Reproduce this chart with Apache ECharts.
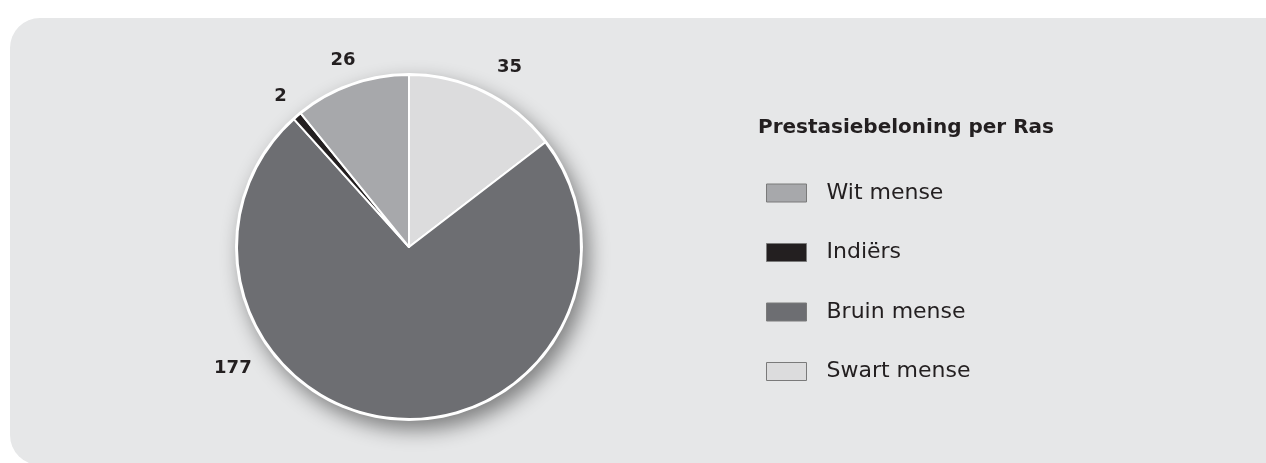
<!DOCTYPE html>
<html>
<head>
<meta charset="utf-8">
<script src="https://cdn.jsdelivr.net/npm/echarts@6/dist/echarts.min.js"></script>
<style>
html,body{margin:0;padding:0;background:#fff;}
#c{width:1266px;height:463px;}
</style>
</head>
<body>
<div id="c"></div>
<script>
// Data (clockwise from 12 o'clock)
const categories = ['Swart mense', 'Bruin mense', 'Indiërs', 'Wit mense'];
const values = [35, 177, 2, 26];
const colors = ['#dcdcdd', '#6d6e72', '#231f20', '#a7a8ab'];
const legendOrder = ['Wit mense', 'Indiërs', 'Bruin mense', 'Swart mense'];
const chartTitle = 'Prestasiebeloning per Ras';

const labelNudge = { 0: [13, -2], 1: [-158, -76] };

const chart = echarts.init(document.getElementById('c'), null, { renderer: 'canvas' });
const FONT = 'DejaVu Sans';
const TXT = '#231f20';

chart.setOption({
  backgroundColor: '#ffffff',
  animation: false,
  graphic: [{
    type: 'rect', z: -10, silent: true,
    shape: { x: 10, y: 18, width: 1320, height: 447, r: 30 },
    style: { fill: '#e6e7e8' }
  }],
  title: {
    text: chartTitle,
    left: 753, top: 113,
    textStyle: { fontFamily: FONT, fontWeight: 'bold', fontSize: 20, color: TXT }
  },
  legend: {
    orient: 'vertical',
    left: 766, top: 182, padding: 0,
    itemWidth: 40, itemHeight: 18, itemGap: 37.5,
    icon: 'rect',
    data: legendOrder,
    itemStyle: { borderColor: '#7a7a7a', borderWidth: 1 },
    textStyle: { fontFamily: FONT, fontSize: 22, color: TXT, padding: [0, 0, 0, 15] }
  },
  series: [
    {
      type: 'pie', name: 'bg', silent: true, z: 1,
      center: [409, 247], radius: 174,
      label: { show: false }, labelLine: { show: false },
      itemStyle: {
        color: '#ffffff',
        shadowBlur: 20, shadowOffsetX: 6, shadowOffsetY: 9, shadowColor: 'rgba(0,0,0,0.45)'
      },
      data: [{ value: 1, name: '__bg' }]
    },
    {
      type: 'pie', name: 'Prestasiebeloning', z: 2,
      center: [409, 247], radius: 172,
      startAngle: 90, clockwise: true,
      avoidLabelOverlap: false,
      itemStyle: { borderColor: '#ffffff', borderWidth: 2 },
      label: {
        show: true, position: 'outside', formatter: '{c}',
        fontFamily: FONT, fontWeight: 'bold', fontSize: 18, color: TXT,
        distanceToLabelLine: 0
      },
      labelLine: { show: false, length: 26, length2: 0 },
      labelLayout: function (p) {
        const n = labelNudge[p.dataIndex] || [0, 0];
        return { align: 'center', verticalAlign: 'middle', dx: n[0], dy: n[1] };
      },
      data: categories.map((c, i) => ({ name: c, value: values[i], itemStyle: { color: colors[i] } }))
    }
  ]
});
</script>
</body>
</html>
